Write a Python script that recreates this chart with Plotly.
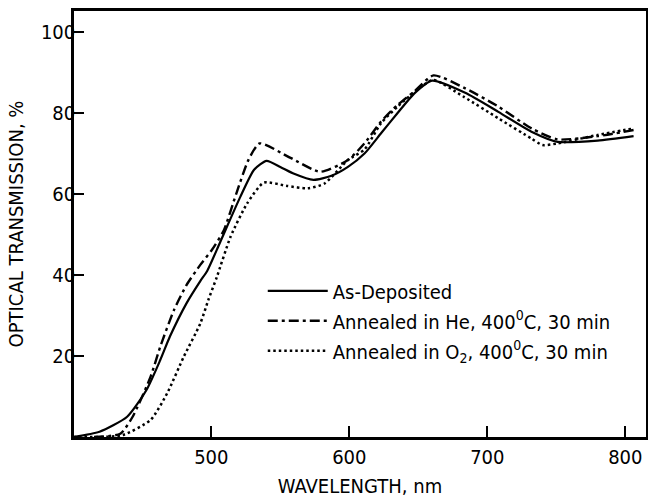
import plotly.graph_objects as go

# Wavelength (nm) / optical transmission (%)
wl_asdep = [400, 419, 439, 453, 463, 470, 482, 492, 497, 506, 521, 531, 540, 550, 560, 574, 587, 599, 611, 623, 635, 647, 660, 684, 708, 732, 751, 780, 806]
t_asdep = [0, 1.3, 5, 11.6, 19, 24.8, 33, 38.5, 41, 47.8, 59.3, 66, 68.2, 66.7, 65, 63.5, 64.5, 66.7, 70, 75, 80, 84.8, 88, 85, 80.3, 75.4, 72.9, 73.2, 74.3]

wl_he = [415, 434, 443, 456, 463, 473, 482, 492, 500, 509, 518, 527, 535, 557, 579, 599, 611, 623, 635, 647, 661, 684, 708, 732, 751, 780, 806]
t_he = [0, 0.8, 5, 14.9, 22.3, 31.4, 37.5, 42.5, 46, 51, 60, 68.5, 72.5, 69, 65.5, 68.4, 72.5, 77.9, 82, 85.3, 89.3, 86.1, 81.6, 76.2, 73.5, 74.3, 75.8]

wl_o2 = [400, 420, 436, 456, 468, 480, 492, 498, 504, 514, 526, 538, 555, 570, 582, 599, 611, 623, 635, 652, 661, 683, 708, 732, 740, 751, 780, 806]
t_o2 = [0, 0, 0.5, 4.2, 10.8, 19.8, 28, 34, 39.5, 49.5, 57.7, 62.8, 62, 61.4, 62.6, 68.4, 71, 77.5, 81.6, 86.5, 88.2, 84, 78.7, 73.7, 72.1, 72.5, 74.6, 76.2]

names = ["As-Deposited",
         "Annealed in He, 400<sup>0</sup>C, 30 min",
         "Annealed in O<sub>2</sub>, 400<sup>0</sup>C, 30 min"]

x_ticks = [500, 600, 700, 800]
y_ticks = [20, 40, 60, 80, 100]

FONT = "Liberation Sans Narrow, Arial Narrow, DejaVu Sans Condensed, sans-serif"

fig = go.Figure()
fig.add_trace(go.Scatter(x=wl_asdep, y=t_asdep, name=names[0], mode="lines",
                         line=dict(color="black", width=2.2, shape="spline", smoothing=0.6),
                         legendgroup="a"))
fig.add_trace(go.Scatter(x=wl_he, y=t_he, name=names[1], mode="lines",
                         line=dict(color="black", width=2.4, dash="10px,4px,3px,4px", shape="spline", smoothing=0.6),
                         legendgroup="b"))
fig.add_trace(go.Scatter(x=wl_o2, y=t_o2, name=names[2], mode="lines",
                         line=dict(color="black", width=2.5, dash="2.5px,3px", shape="spline", smoothing=0.6),
                         legendgroup="c"))

fig.update_layout(
    width=648, height=498,
    margin=dict(l=74, r=2, t=11, b=61, autoexpand=False),
    paper_bgcolor="white", plot_bgcolor="white",
    font=dict(family=FONT, size=20, color="black"),
    showlegend=True,
    legend=dict(x=0.330, y=0.389, xanchor="left", yanchor="top",
                bgcolor="rgba(0,0,0,0)", tracegroupgap=1, itemwidth=60,
                font=dict(family=FONT, size=20, color="black")),
    xaxis=dict(range=[400.5, 815], tickvals=x_ticks, ticktext=[str(v) for v in x_ticks],
               ticks="inside", ticklen=11, tickwidth=1.5, tickcolor="black",
               showline=True, linewidth=2.5, linecolor="black", mirror=True,
               showgrid=False, zeroline=False, automargin=False,
               tickfont=dict(family=FONT, size=20),
               title=dict(text="WAVELENGTH, nm", font=dict(family=FONT, size=20), standoff=18)),
    yaxis=dict(range=[0, 105.2], tickvals=y_ticks, ticktext=[str(v) for v in y_ticks],
               ticks="inside", ticklen=10, tickwidth=1.5, tickcolor="black",
               showline=True, linewidth=2.5, linecolor="black", mirror=True,
               showgrid=False, zeroline=False, ticklabelstandoff=-8, automargin=False,
               tickfont=dict(family=FONT, size=20),
               title=dict(text="OPTICAL TRANSMISSION, %", font=dict(family=FONT, size=20), standoff=12)),
)

fig.write_html("out.html", config={"displayModeBar": False},
               post_script="document.body.style.margin='0';")
